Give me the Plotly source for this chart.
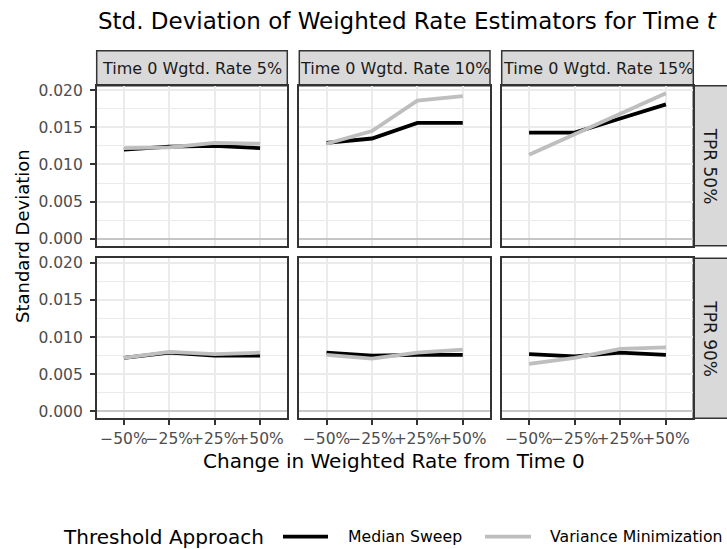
import plotly.graph_objects as go
from plotly.subplots import make_subplots

W, H = 727, 549

# ---------------- data ----------------
categories = ["−50%", "−25%", "+25%", "+50%"]
rate_labels = ["Time 0 Wgtd. Rate 5%", "Time 0 Wgtd. Rate 10%", "Time 0 Wgtd. Rate 15%"]
tpr_labels = ["TPR 50%", "TPR 90%"]
series_names = ["Median Sweep", "Variance Minimization"]
legend_title = "Threshold Approach"

# TPR 50%
median_tpr50_r5 = [0.0120, 0.0124, 0.0125, 0.0122]
varmin_tpr50_r5 = [0.0122, 0.0123, 0.0129, 0.0128]
median_tpr50_r10 = [0.0129, 0.0135, 0.0156, 0.0156]
varmin_tpr50_r10 = [0.0128, 0.0145, 0.0186, 0.0192]
median_tpr50_r15 = [0.0143, 0.0143, 0.0162, 0.0181]
varmin_tpr50_r15 = [0.0113, 0.0141, 0.0169, 0.0196]
# TPR 90%
median_tpr90_r5 = [0.0072, 0.0079, 0.0075, 0.0075]
varmin_tpr90_r5 = [0.0072, 0.0080, 0.0077, 0.0079]
median_tpr90_r10 = [0.0079, 0.0075, 0.0076, 0.0076]
varmin_tpr90_r10 = [0.0076, 0.0071, 0.0079, 0.0083]
median_tpr90_r15 = [0.0077, 0.0074, 0.0079, 0.0076]
varmin_tpr90_r15 = [0.0064, 0.0072, 0.0084, 0.0086]

y_ticks = [0.000, 0.005, 0.010, 0.015, 0.020]

panels = [
    [(median_tpr50_r5, varmin_tpr50_r5), (median_tpr50_r10, varmin_tpr50_r10), (median_tpr50_r15, varmin_tpr50_r15)],
    [(median_tpr90_r5, varmin_tpr90_r5), (median_tpr90_r10, varmin_tpr90_r10), (median_tpr90_r15, varmin_tpr90_r15)],
]

# ---------------- styling ----------------
FONT = "DejaVu Sans"
COL_MEDIAN = "#000000"
COL_VARMIN = "#BEBEBE"
BORDER = "#333333"
GRID = "#EBEBEB"
STRIP_FILL = "#D9D9D9"
LINE_W = 3.8

col_px = [(96.7, 287.3), (299.3, 490.0), (501.7, 693.3)]
row_px = [(85.7, 245.7), (258.3, 418.3)]
strip_top_px = (50.7, 85.7)
strip_right_px = (693.3, 728.5)


def px_x(v):
    return v / W


def px_y(v):
    return 1 - v / H


fig = make_subplots(rows=2, cols=3)

for r in range(2):
    for c in range(3):
        med, vm = panels[r][c]
        fig.add_trace(go.Scatter(x=categories, y=med, mode="lines", name=series_names[0],
                                 line=dict(color=COL_MEDIAN, width=LINE_W),
                                 showlegend=False, hoverinfo="skip"), row=r + 1, col=c + 1)
        fig.add_trace(go.Scatter(x=categories, y=vm, mode="lines", name=series_names[1],
                                 line=dict(color=COL_VARMIN, width=LINE_W),
                                 showlegend=False, hoverinfo="skip"), row=r + 1, col=c + 1)

        fig.update_xaxes(
            row=r + 1, col=c + 1,
            domain=[px_x(col_px[c][0]), px_x(col_px[c][1])],
            type="category", categoryorder="array", categoryarray=categories,
            range=[-0.6, 3.6],
            showgrid=True, gridcolor=GRID, gridwidth=1.6,
            showline=True, linecolor=BORDER, linewidth=1.5, mirror=True,
            ticks="outside" if r == 1 else "", ticklen=5, tickwidth=1.5, tickcolor=BORDER,
            showticklabels=(r == 1), tickangle=0,
            tickfont=dict(family=FONT, size=15.5, color="#4D4D4D"),
            zeroline=False, fixedrange=True, automargin=False,
        )
        fig.update_yaxes(
            row=r + 1, col=c + 1,
            domain=[px_y(row_px[r][1]), px_y(row_px[r][0])],
            range=[-0.00095, 0.02062],
            tickvals=y_ticks, ticktext=[f"{v:.3f}" for v in y_ticks],
            showgrid=True, gridcolor=GRID, gridwidth=1.6,
            minor=dict(dtick=0.0025, tick0=0, showgrid=True, gridcolor=GRID, gridwidth=0.8, ticks=""),
            showline=True, linecolor=BORDER, linewidth=1.5, mirror=True,
            ticks="outside" if c == 0 else "", ticklen=5, tickwidth=1.5, tickcolor=BORDER,
            showticklabels=(c == 0), ticklabelstandoff=4,
            tickfont=dict(family=FONT, size=15.5, color="#4D4D4D"),
            zeroline=True, zerolinecolor="#C6C6C6", zerolinewidth=2.2, fixedrange=True,
            automargin=False,
        )

shapes = []
annotations = []
# top strips
for c in range(3):
    shapes.append(dict(type="rect", xref="paper", yref="paper",
                       x0=px_x(col_px[c][0]), x1=px_x(col_px[c][1]),
                       y0=px_y(strip_top_px[1]), y1=px_y(strip_top_px[0]),
                       fillcolor=STRIP_FILL, line=dict(color=BORDER, width=1.5), layer="below"))
    annotations.append(dict(text=rate_labels[c], xref="paper", yref="paper",
                            x=px_x((col_px[c][0] + col_px[c][1]) / 2),
                            y=px_y((strip_top_px[0] + strip_top_px[1]) / 2),
                            xanchor="center", yanchor="middle", showarrow=False,
                            font=dict(family=FONT, size=16, color="#1A1A1A")))
# right strips
for r in range(2):
    shapes.append(dict(type="rect", xref="paper", yref="paper",
                       x0=px_x(strip_right_px[0]), x1=px_x(strip_right_px[1]),
                       y0=px_y(row_px[r][1]), y1=px_y(row_px[r][0]),
                       fillcolor=STRIP_FILL, line=dict(color=BORDER, width=1.5), layer="below"))
    annotations.append(dict(text=tpr_labels[r], xref="paper", yref="paper",
                            x=px_x(710), y=px_y((row_px[r][0] + row_px[r][1]) / 2),
                            xanchor="center", yanchor="middle", showarrow=False, textangle=90,
                            font=dict(family=FONT, size=17, color="#1A1A1A")))

# title
annotations.append(dict(text="Std. Deviation of Weighted Rate Estimators for Time <i>t</i>",
                        xref="paper", yref="paper", x=px_x(96), y=px_y(21),
                        xanchor="left", yanchor="middle", showarrow=False,
                        font=dict(family=FONT, size=23.0, color="#000000")))
# axis titles
annotations.append(dict(text="Change in Weighted Rate from Time 0", xref="paper", yref="paper",
                        x=px_x(394), y=px_y(461), xanchor="center", yanchor="middle",
                        showarrow=False, font=dict(family=FONT, size=20, color="#000000")))
annotations.append(dict(text="Standard Deviation", xref="paper", yref="paper",
                        x=px_x(22), y=px_y(236), xanchor="center", yanchor="middle",
                        showarrow=False, textangle=-90,
                        font=dict(family=FONT, size=18, color="#000000")))

# legend (drawn as key glyphs + labels)
LEG_Y = 536.7
annotations.append(dict(text=legend_title, xref="paper", yref="paper",
                        x=px_x(61), y=px_y(LEG_Y), xanchor="left", yanchor="middle",
                        showarrow=False, font=dict(family=FONT, size=20, color="#000000")))
legend_keys = [(283, 328, 346, COL_MEDIAN, series_names[0]),
               (485, 531, 548, COL_VARMIN, series_names[1])]
for x0, x1, xt, col, name in legend_keys:
    shapes.append(dict(type="line", xref="paper", yref="paper",
                       x0=px_x(x0), x1=px_x(x1), y0=px_y(LEG_Y), y1=px_y(LEG_Y),
                       line=dict(color=col, width=LINE_W)))
    annotations.append(dict(text=name, xref="paper", yref="paper",
                            x=px_x(xt), y=px_y(LEG_Y), xanchor="left", yanchor="middle",
                            showarrow=False, font=dict(family=FONT, size=15.7, color="#000000")))

fig.update_layout(
    width=W, height=H,
    margin=dict(l=0, r=0, t=0, b=0),
    paper_bgcolor="white", plot_bgcolor="white",
    shapes=shapes, annotations=annotations,
    showlegend=False,
    font=dict(family=FONT),
)

fig.write_html("out.html", config={"displayModeBar": False},
               post_script="document.body.style.margin='0px';document.body.style.overflow='hidden';")
